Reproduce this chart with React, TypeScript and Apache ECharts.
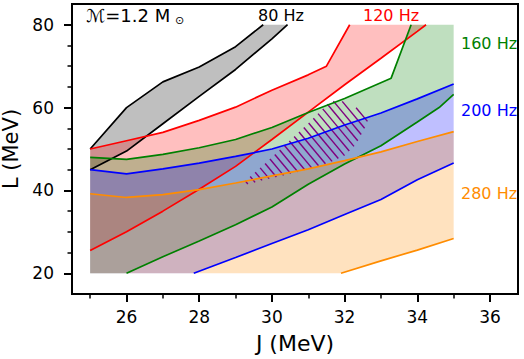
import React, { useEffect, useRef } from 'react';
import * as echarts from 'echarts';

const FONT = 'DejaVu Sans';

// axis ticks
const xMajorTicks = [26, 28, 30, 32, 34, 36];
const xMinorTicks = [25, 27, 29, 31, 33, 35];
const yMajorTicks = [20, 40, 60, 80];
const yMinorTicks = [25, 30, 35, 45, 50, 55, 65, 70, 75];

// clipping limits of the shaded bands
const L_MIN = 20;
const L_MAX = 80;

// 80 Hz band
const band80Upper = [[25, 50], [26, 60], [27, 66.2], [28, 69.8], [29, 74.7], [29.76, 80]];
const band80Lower = [[25, 45], [26, 49.5], [27, 56.1], [28, 62.7], [29, 69.2], [30, 76.6], [30.43, 80]];
// 120 Hz band
const band120Upper = [[25, 50], [26, 52], [27, 54], [28, 56.9], [29, 60.1], [30, 64.2], [31, 67.9], [31.5, 70], [32.14, 80]];
const band120Lower = [[25, 25.5], [26, 30], [27, 35], [28, 40.3], [29, 45.8], [30, 52.3], [31, 58.9], [32, 65.5], [33, 71.9], [34, 78.4], [34.24, 80]];
// 160 Hz band
const band160Upper = [[25, 48], [26, 47.5], [27, 48.7], [28, 50.3], [29, 52.3], [30, 55.2], [31, 58.8], [32, 62.2], [33.28, 67.1], [33.83, 80]];
const band160Lower = [[26, 20], [27, 24], [28, 27.8], [29, 31.7], [30, 36], [31, 41.5], [32, 46.4], [33, 50.8], [34, 56.5], [34.6, 60], [35, 63.2]];
// 200 Hz band
const band200Upper = [[25, 45], [26, 44], [27, 45.2], [28, 46.6], [29, 48.2], [30, 50], [31, 52.6], [32, 55.8], [33, 58.7], [34, 62.1], [35, 65.7]];
const band200Lower = [[27.85, 20], [29, 23.8], [30, 27.2], [31, 30.5], [32, 34.2], [33, 37.8], [34, 42.6], [35, 46.6]];
// 280 Hz band
const band280Upper = [[25, 39.2], [26, 38.3], [27, 39], [28, 40.2], [29, 41.8], [30, 43.5], [31, 45.2], [32, 47.2], [33, 49.3], [34, 51.8], [35, 54.2]];
const band280Lower = [[31.9, 20], [33, 23], [34, 25.6], [35, 28.4]];

// hatched region
const hatchRegion = [
  [29.15, 41.4], [29.8, 46.4], [30.4, 51.3], [31.0, 56.2], [31.55, 61], [31.8, 62],
  [32.2, 60.5], [32.7, 58.2], [32.55, 55], [32.3, 51], [32.0, 48.4], [31.6, 46.8],
  [31.0, 45.2], [30.4, 43.8], [29.8, 42.6], [29.4, 41.6],
];

const bandLabels = ['80 Hz', '120 Hz', '160 Hz', '200 Hz', '280 Hz'];
const bandColors = ['#000000', '#ff0000', '#008000', '#0000ff', '#ff8c00'];
const bandFills = ['rgba(0,0,0,0.25)', 'rgba(255,0,0,0.25)', 'rgba(0,128,0,0.25)', 'rgba(0,0,255,0.25)', 'rgba(255,140,0,0.25)'];
const bandUppers = [band80Upper, band120Upper, band160Upper, band200Upper, band280Upper];
const bandLowers = [band80Lower, band120Lower, band160Lower, band200Lower, band280Lower];

function bandPolygon(upper: number[][], lower: number[][]) {
  const top = upper.slice();
  const bottom = lower.slice();
  if (bottom[0][0] > top[0][0]) bottom.unshift([top[0][0], L_MIN]);
  const uEnd = top[top.length - 1];
  const lEnd = bottom[bottom.length - 1];
  if (uEnd[1] >= L_MAX && lEnd[0] > uEnd[0] && lEnd[1] < L_MAX) top.push([lEnd[0], L_MAX]);
  return top.concat(bottom.reverse());
}

export default function App() {
  const ref = useRef<HTMLDivElement>(null);
  useEffect(() => {
    if (!ref.current) return;
    const chart = echarts.init(ref.current, null, { renderer: 'svg' });

    const series: any[] = [];
    bandUppers.forEach((up, i) => {
      const poly = bandPolygon(up, bandLowers[i]);
      series.push({
        type: 'custom',
        coordinateSystem: 'cartesian2d',
        xAxisIndex: 0,
        yAxisIndex: 0,
        silent: true,
        clip: true,
        z: 2,
        data: [poly[0]],
        renderItem: (_p: any, api: any) => ({
          type: 'polygon',
          shape: { points: poly.map((p) => api.coord(p)) },
          style: { fill: bandFills[i], stroke: 'none' },
        }),
      });
    });

    series.push({
      type: 'custom',
      coordinateSystem: 'cartesian2d',
      xAxisIndex: 0,
      yAxisIndex: 0,
      silent: true,
      z: 3,
      data: [hatchRegion[0]],
      renderItem: (_p: any, api: any) => {
        const pts = hatchRegion.map((p) => api.coord(p));
        const dx = 1, dy = 1.2;
        const len = Math.hypot(dx, dy);
        const d = [dx / len, dy / len];
        const n = [-d[1], d[0]];
        const proj = pts.map((p: number[]) => p[0] * n[0] + p[1] * n[1]);
        const cmin = Math.min(...proj), cmax = Math.max(...proj);
        const spacing = 6.6;
        const children: any[] = [];
        for (let c = Math.ceil(cmin / spacing) * spacing; c <= cmax; c += spacing) {
          const hits: number[][] = [];
          for (let k = 0; k < pts.length; k++) {
            const k2 = (k + 1) % pts.length;
            const a = pts[k], b = pts[k2];
            const fa = proj[k] - c, fb = proj[k2] - c;
            if ((fa < 0) !== (fb < 0)) {
              const t = fa / (fa - fb);
              hits.push([a[0] + t * (b[0] - a[0]), a[1] + t * (b[1] - a[1])]);
            }
          }
          hits.sort((p, q) => (p[0] * d[0] + p[1] * d[1]) - (q[0] * d[0] + q[1] * d[1]));
          for (let k = 0; k + 1 < hits.length; k += 2) {
            children.push({
              type: 'line',
              shape: { x1: hits[k][0], y1: hits[k][1], x2: hits[k + 1][0], y2: hits[k + 1][1] },
              style: { stroke: '#800080', lineWidth: 1.4 },
            });
          }
        }
        return { type: 'group', children };
      },
    });

    bandUppers.forEach((up, i) => {
      [up, bandLowers[i]].forEach((line) => {
        series.push({
          type: 'line',
          name: bandLabels[i],
          xAxisIndex: 0,
          yAxisIndex: 0,
          data: line,
          symbol: 'none',
          silent: true,
          z: 4,
          lineStyle: { color: bandColors[i], width: 1.7 },
        });
      });
    });

    const labelStyle = { color: '#000', fontSize: 17, fontFamily: FONT };
    const annotationY = [15, 15, 43.5, 110, 193];
    const annotationX = [258, 363, 461, 461, 461];

    chart.setOption({
      animation: false,
      grid: {
        left: 72, right: 6, top: 4, bottom: 65, show: true, borderColor: '#000', borderWidth: 2,
        backgroundColor: 'transparent', containLabel: false, outerBoundsMode: 'none',
      },
      xAxis: [
        {
          type: 'value', min: 24.5, max: 36.77,
          axisLine: { show: true, onZero: false, lineStyle: { color: '#000', width: 2 } },
          axisTick: { show: true, customValues: xMajorTicks, length: 8, lineStyle: { color: '#000', width: 2 } },
          axisLabel: { customValues: xMajorTicks, margin: 14, formatter: (v: number) => String(Math.round(v)), ...labelStyle },
          splitLine: { show: false },
          name: 'J (MeV)', nameLocation: 'middle', nameGap: 38,
          nameTextStyle: { color: '#000', fontSize: 22, fontFamily: FONT },
        },
        {
          type: 'value', min: 24.5, max: 36.77, position: 'bottom',
          axisLine: { show: false, onZero: false },
          axisTick: { show: true, customValues: xMinorTicks, length: 4.5, lineStyle: { color: '#000', width: 1.5 } },
          axisLabel: { show: false },
          splitLine: { show: false },
        },
      ],
      yAxis: [
        {
          type: 'value', min: 15, max: 85,
          axisLine: { show: true, onZero: false, lineStyle: { color: '#000', width: 2 } },
          axisTick: { show: true, customValues: yMajorTicks, length: 8, lineStyle: { color: '#000', width: 2 } },
          axisLabel: { customValues: yMajorTicks, margin: 18, formatter: (v: number) => String(Math.round(v)), ...labelStyle },
          splitLine: { show: false },
          name: 'L (MeV)', nameLocation: 'middle', nameGap: 43,
          nameTextStyle: { color: '#000', fontSize: 21, fontFamily: FONT },
        },
        {
          type: 'value', min: 15, max: 85, position: 'left',
          axisLine: { show: false, onZero: false },
          axisTick: { show: true, customValues: yMinorTicks, length: 4.5, lineStyle: { color: '#000', width: 1.5 } },
          axisLabel: { show: false },
          splitLine: { show: false },
        },
      ],
      graphic: [
        { type: 'text', left: 86, top: 6, style: { text: 'ℳ=1.2 M', fill: '#000', fontSize: 18, fontFamily: FONT } },
        { type: 'text', left: 175, top: 15, style: { text: '⊙', fill: '#000', fontSize: 11, fontFamily: FONT } },
        ...bandLabels.map((t, i) => ({
          type: 'text', x: annotationX[i], y: annotationY[i],
          style: { text: t, fill: bandColors[i], fontSize: 16, fontFamily: FONT, verticalAlign: 'middle', align: 'left' },
        })),
      ],
      series,
    });
    return () => chart.dispose();
  }, []);
  return <div ref={ref} style={{ position: 'absolute', left: 0, top: 0, width: 524, height: 359 }} />;
}
